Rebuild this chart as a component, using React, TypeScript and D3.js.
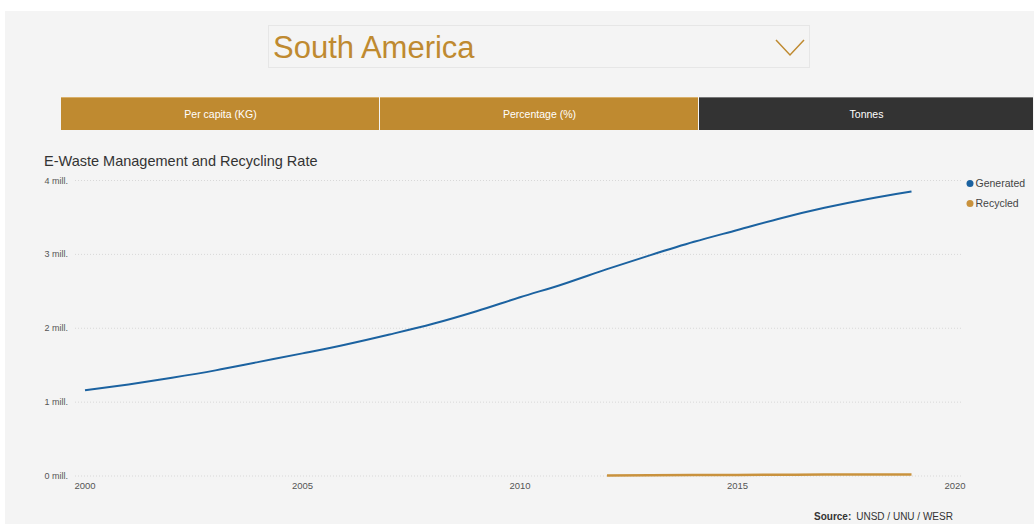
import React from "react";
import * as d3 from "d3";

const years = [2000, 2001, 2002, 2003, 2004, 2005, 2006, 2007, 2008, 2009, 2010, 2011, 2012, 2013, 2014, 2015, 2016, 2017, 2018, 2019];
const generated = [1.16, 1.24, 1.33, 1.43, 1.545, 1.66, 1.78, 1.915, 2.06, 2.23, 2.42, 2.6, 2.8, 2.99, 3.17, 3.33, 3.49, 3.63, 3.75, 3.85];
const recycledYears = [2012, 2013, 2014, 2015, 2016, 2017, 2018, 2019];
const recycled = [0.006, 0.009, 0.012, 0.015, 0.017, 0.019, 0.02, 0.02];
const yTicks = [0, 1, 2, 3, 4];
const xTicks = [2000, 2005, 2010, 2015, 2020];
const tabs = ["Per capita (KG)", "Percentage (%)", "Tonnes"];
const legendItems = ["Generated", "Recycled"];

const GOLD = "#bf8a30";
const BLUE = "#1b62a0";
const ORANGE = "#c9923d";
const FONT = "Arial, 'Liberation Sans', Helvetica, sans-serif";

export default function App() {
  const x = d3.scaleLinear().domain([2000, 2020]).range([85, 955]);
  const y = d3.scaleLinear().domain([0, 4]).range([476, 180.5]);
  const line = d3
    .line<[number, number]>()
    .x((d) => x(d[0]))
    .y((d) => y(d[1]))
    .curve(d3.curveMonotoneX);
  const genPath = line(years.map((yr, i) => [yr, generated[i]]));
  const recPath = line(recycledYears.map((yr, i) => [yr, recycled[i]]));
  const tabX = [61, 380, 699, 1034];
  const legendColors = [BLUE, ORANGE];

  return (
    <div style={{ position: "absolute", left: 0, top: 0 }}>
      <svg width={1034} height={524} style={{ display: "block", fontFamily: FONT }}>
        <rect x={0} y={0} width={1034} height={524} fill="#ffffff" />
        <rect x={5} y={11} width={1029} height={513} fill="#f4f4f4" />
        {/* dropdown */}
        <rect x={268.5} y={25.5} width={541} height={42} fill="#f4f4f4" stroke="#e6e6e6" />
        <text x={273} y={58} fontSize={31} fill={GOLD}>South America</text>
        <path d="M776,40 L790,55 L804,40" fill="none" stroke={GOLD} strokeWidth={1.5} />
        {/* tabs */}
        {tabs.map((t, i) => (
          <g key={t}>
            <rect x={tabX[i]} y={97} width={tabX[i + 1] - tabX[i] - 1} height={33} fill={i === 2 ? "#333333" : GOLD} />
            <line x1={tabX[i]} x2={tabX[i + 1] - 1} y1={97.5} y2={97.5} stroke={i === 2 ? "#777" : "#d9b06a"} />
            <text x={(tabX[i] + tabX[i + 1]) / 2} y={117.5} fontSize={10.5} fill="#ffffff" textAnchor="middle">{t}</text>
          </g>
        ))}
        {/* title */}
        <text x={44} y={166} fontSize={14.5} fill="#333">E-Waste Management and Recycling Rate</text>
        {/* grid */}
        {yTicks.map((v) => (
          <g key={v}>
            <line x1={75} x2={962} y1={y(v)} y2={y(v)} stroke="#d8d8d8" strokeDasharray="1,2" />
            <text x={68} y={y(v) + 3} fontSize={9} fill="#555" textAnchor="end">{`${v} mill.`}</text>
          </g>
        ))}
        {xTicks.map((v) => (
          <text key={v} x={x(v)} y={489} fontSize={9.5} fill="#555" textAnchor="middle">{v}</text>
        ))}
        <path d={genPath || ""} fill="none" stroke={BLUE} strokeWidth={2} />
        <path d={recPath || ""} fill="none" stroke={ORANGE} strokeWidth={2.5} />
        {/* legend */}
        {legendItems.map((l, i) => (
          <g key={l}>
            <circle cx={970} cy={183.5 + i * 20} r={3.5} fill={legendColors[i]} />
            <text x={975.5} y={187 + i * 20} fontSize={10.5} fill="#444">{l}</text>
          </g>
        ))}
        {/* source */}
        <text x={814} y={520} fontSize={10} fill="#333">
          <tspan fontWeight="bold">Source:</tspan>
          <tspan dx={5}>UNSD / UNU / WESR</tspan>
        </text>
      </svg>
    </div>
  );
}
